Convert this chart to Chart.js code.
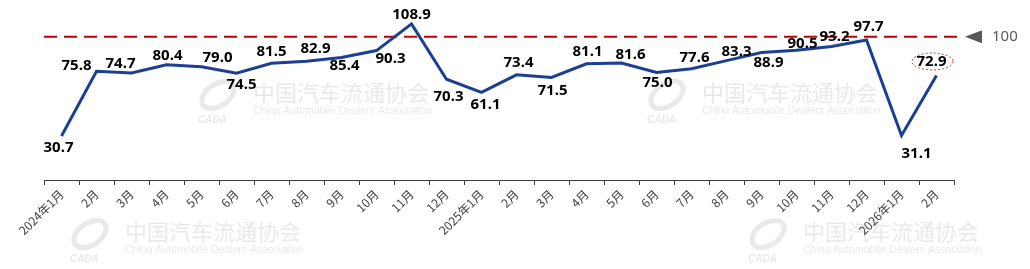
<!DOCTYPE html>
<html>
<head>
<meta charset="utf-8">
<script src="https://cdn.jsdelivr.net/npm/chart.js@4.4.0/dist/chart.umd.min.js"></script>
<style>
  html, body { margin: 0; padding: 0; background: #fff; }
  #wrap { width: 1030px; height: 269px; }
</style>
</head>
<body>
<div id="wrap"><canvas id="indexChart" width="1030" height="269"></canvas></div>
<script>
// data
const months = ['2024年1月', '2月', '3月', '4月', '5月', '6月', '7月', '8月', '9月', '10月', '11月', '12月',
                '2025年1月', '2月', '3月', '4月', '5月', '6月', '7月', '8月', '9月', '10月', '11月', '12月',
                '2026年1月', '2月'];
const indexValues = [30.7, 75.8, 74.7, 80.4, 79.0, 74.5, 81.5, 82.9, 85.4, 90.3, 108.9, 70.3,
                     61.1, 73.4, 71.5, 81.1, 81.6, 75.0, 77.6, 83.3, 88.9, 90.5, 93.2, 97.7,
                     31.1, 72.9];
const refLevel = 100;

// hand placed label offsets (dx, dy from the point), like the original
const labelOffsets = [[-3, 12], [-20, -6], [-11, -9], [1, -9], [16, -9], [5, 12], [0, -11], [9, -12],
                      [3, 8], [14, 8], [0, -9], [2, 17], [4, 12], [2, -12], [1, 13], [1, -12],
                      [9, -8], [1, 10], [3, -11], [10, -9], [7, 10], [6, -7], [3, -10], [2, -13],
                      [15, 18], [-5, -14]];

// faint association watermark
const watermark = {
    id: 'watermark',
    beforeDraw(chart) {
        const ctx = chart.ctx;
        const spots = [[253, 93], [702, 93], [125, 232], [803, 232]];
        ctx.save();
        spots.forEach(([x, y]) => {
            ctx.fillStyle = 'rgba(215,215,215,0.55)';
            ctx.font = '22px "Noto Sans CJK SC"';
            ctx.textAlign = 'left';
            ctx.textBaseline = 'middle';
            ctx.fillText('中国汽车流通协会', x, y);
            ctx.font = '10.5px "Liberation Sans"';
            ctx.fillText('China Automobile Dealers Association', x, y + 18);
            // rough logo swoosh
            ctx.strokeStyle = 'rgba(215,215,215,0.55)';
            ctx.lineWidth = 5;
            ctx.beginPath();
            ctx.ellipse(x - 35, y + 2, 18, 11, -0.6, 0, Math.PI * 2);
            ctx.stroke();
            ctx.font = 'italic bold 10px "Liberation Sans"';
            ctx.fillText('CADA', x - 55, y + 27);
        });
        ctx.restore();
    }
};

// dashed 100 reference line with marker on the right
const refLine = {
    id: 'refLine',
    beforeDatasetsDraw(chart) {
        const ctx = chart.ctx;
        const area = chart.chartArea;
        const y = chart.scales.y.getPixelForValue(refLevel);
        ctx.save();
        ctx.strokeStyle = '#C00000';
        ctx.lineWidth = 2;
        ctx.setLineDash([13, 7]);
        ctx.beginPath();
        ctx.moveTo(area.left, y);
        ctx.lineTo(area.right + 4, y);
        ctx.stroke();
        ctx.setLineDash([]);
        ctx.fillStyle = '#595959';
        ctx.beginPath();
        ctx.moveTo(area.right + 11, y);
        ctx.lineTo(area.right + 28, y - 6.5);
        ctx.lineTo(area.right + 28, y + 6.5);
        ctx.closePath();
        ctx.fill();
        ctx.font = '15px "Noto Sans"';
        ctx.textAlign = 'left';
        ctx.textBaseline = 'middle';
        ctx.fillText(String(refLevel), area.right + 38, y);
        ctx.restore();
    }
};

// value labels
const valueLabels = {
    id: 'valueLabels',
    afterDatasetsDraw(chart) {
        const ctx = chart.ctx;
        const meta = chart.getDatasetMeta(0);
        ctx.save();
        ctx.font = 'bold 15px "Noto Sans"';
        ctx.fillStyle = '#000';
        ctx.textAlign = 'center';
        ctx.textBaseline = 'middle';
        meta.data.forEach((pt, i) => {
            const [dx, dy] = labelOffsets[i];
            const x = pt.x + dx, y = pt.y + dy;
            ctx.fillText(indexValues[i].toFixed(1), x, y);
            if (i === meta.data.length - 1) {
                ctx.strokeStyle = '#C00000';
                ctx.lineWidth = 0.8;
                ctx.setLineDash([2, 2]);
                ctx.beginPath();
                ctx.ellipse(x + 1, y, 20.5, 8.5, 0, 0, Math.PI * 2);
                ctx.stroke();
                ctx.setLineDash([]);
            }
        });
        ctx.restore();
    }
};

new Chart(document.getElementById('indexChart'), {
    type: 'line',
    data: {
        labels: months,
        datasets: [{
            data: indexValues,
            borderColor: '#1B3F93',
            borderWidth: 3,
            pointRadius: 0,
            tension: 0,
            fill: false
        }]
    },
    options: {
        responsive: false,
        animation: false,
        layout: { padding: { left: 44, right: 76, top: 8, bottom: 0 } },
        plugins: {
            legend: { display: false },
            tooltip: { enabled: false }
        },
        scales: {
            y: {
                display: false,
                min: 0,
                max: 120
            },
            x: {
                offset: true,
                grid: {
                    offset: true,
                    drawOnChartArea: false,
                    tickLength: 5,
                    color: '#404040'
                },
                border: { display: true, color: '#404040', width: 1 },
                ticks: {
                    autoSkip: false,
                    minRotation: 45,
                    maxRotation: 45,
                    padding: 2,
                    color: '#404040',
                    font: { family: '"Noto Sans CJK SC"', size: 12 }
                },
                afterFit(scale) { scale.height = 89; }
            }
        }
    },
    plugins: [watermark, refLine, valueLabels]
});
</script>
</body>
</html>
